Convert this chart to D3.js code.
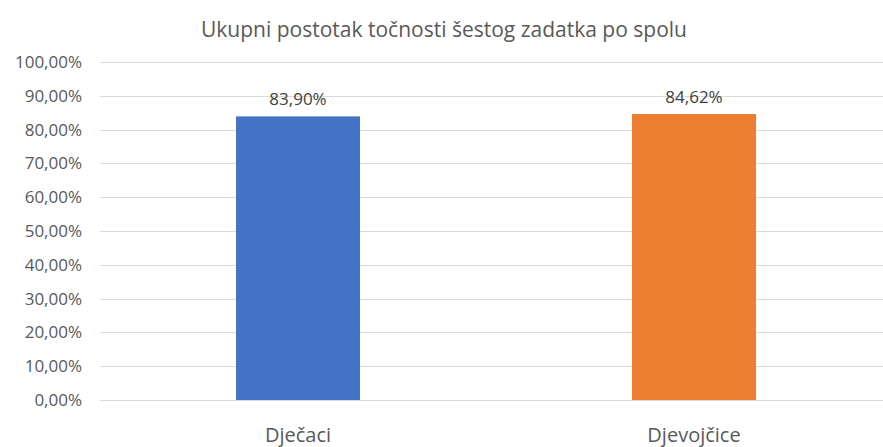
<!DOCTYPE html>
<html>
<head>
<meta charset="utf-8">
<script src="https://cdn.jsdelivr.net/npm/d3@7"></script>
<style>
  body { margin: 0; background: #fff; }
  text { font-family: "Open Sans", sans-serif; }
</style>
</head>
<body>
<svg id="chart" width="883" height="447"></svg>
<script>
// chart data
const title = "Ukupni postotak točnosti šestog zadatka po spolu";
const categories = ["Dječaci", "Djevojčice"];
const values = [83.90, 84.62];
const colors = ["#4472C4", "#ED7D31"];
const yTicks = [0, 10, 20, 30, 40, 50, 60, 70, 80, 90, 100];

const margin = {top: 62, bottom: 47, left: 100, right: -9};
const width = 883, height = 447;

const svg = d3.select("#chart");

const fmt = v => d3.format(".2f")(v).replace(".", ",") + "%";

const x = d3.scaleBand()
    .domain(categories)
    .range([margin.left, width - margin.right])
    .paddingInner(0.687)
    .paddingOuter(0.3435);

const y = d3.scaleLinear()
    .domain([0, 100])
    .range([height - margin.bottom, margin.top]);

// gridlines
svg.append("g")
    .selectAll("line")
    .data(yTicks)
    .enter()
    .append("line")
    .attr("x1", margin.left)
    .attr("x2", width - margin.right)
    .attr("y1", d => Math.round(y(d)) + 0.5)
    .attr("y2", d => Math.round(y(d)) + 0.5)
    .style("stroke", "#d9d9d9")
    .style("stroke-width", 1);

// y axis labels
const yAxis = d3.axisLeft(y).tickValues(yTicks).tickFormat(fmt).tickSize(0).tickPadding(0);
svg.append("g")
    .attr("transform", "translate(82,0)")
    .call(yAxis)
    .call(g => g.select(".domain").remove())
    .selectAll("text")
    .style("font-family", "'Open Sans', sans-serif")
    .style("font-size", "17px")
    .style("fill", "#595959");

// bars
svg.append("g")
    .selectAll("rect")
    .data(categories)
    .enter()
    .append("rect")
    .attr("x", d => x(d))
    .attr("width", x.bandwidth())
    .attr("y", (d, i) => y(values[i]))
    .attr("height", (d, i) => y(0) - y(values[i]))
    .attr("fill", (d, i) => colors[i]);

// value labels
svg.append("g")
    .selectAll("text")
    .data(categories)
    .enter()
    .append("text")
    .attr("x", d => x(d) + x.bandwidth() / 2)
    .attr("y", (d, i) => y(values[i]) - 11)
    .attr("text-anchor", "middle")
    .style("font-size", "17px")
    .style("fill", "#404040")
    .text((d, i) => fmt(values[i]));

// category labels
svg.append("g")
    .selectAll("text")
    .data(categories)
    .enter()
    .append("text")
    .attr("x", d => x(d) + x.bandwidth() / 2)
    .attr("y", 442)
    .attr("text-anchor", "middle")
    .style("font-size", "20px")
    .style("fill", "#595959")
    .text(d => d);

// title
svg.append("text")
    .attr("x", 444)
    .attr("y", 37)
    .attr("text-anchor", "middle")
    .style("font-size", "21px")
    .style("fill", "#595959")
    .text(title);
</script>
</body>
</html>
